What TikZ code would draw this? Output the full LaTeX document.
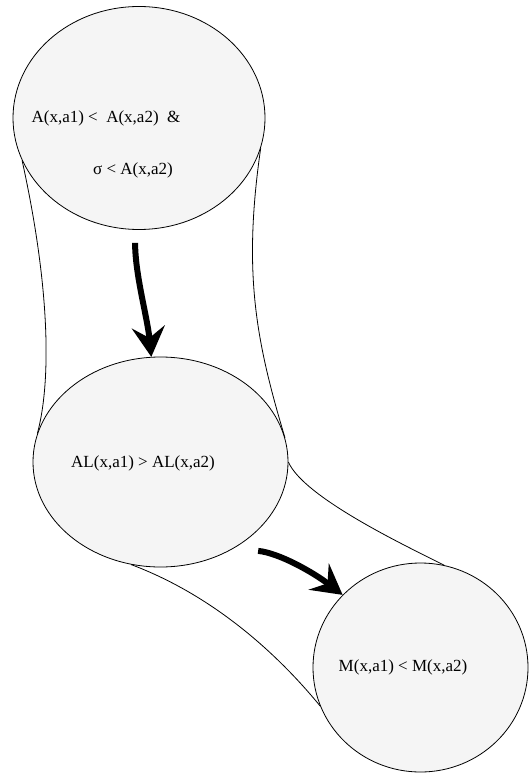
\documentclass[tikz,border=0pt]{standalone}
\usepackage{fontspec}
\setmainfont{Liberation Serif}
\usetikzlibrary{shapes.geometric, arrows.meta, positioning}
\definecolor{cfill}{gray}{0.96}

\begin{document}
\begin{tikzpicture}[
    x=1pt, y=-1pt,
    blob/.style={draw, ellipse, fill=cfill, inner sep=0pt, line width=0.8pt},
    cond/.style={font=\fontsize{17}{20}\selectfont, inner sep=0pt},
    sleeve/.style={line width=0.8pt},
    flow/.style={-{Stealth[length=30pt, width=33pt, inset=11pt]}, line width=6pt}
]
\useasboundingbox (0,0) rectangle (528,775);

\node[blob, minimum width=252pt, minimum height=223pt] (ineq) at (139,118) {};
\node[blob, minimum width=255pt, minimum height=210pt] (al) at (160.5,462) {};
\node[blob, minimum width=215pt, minimum height=209pt] (m) at (420.5,667.5) {};

\node[cond] (ineqa) at (106,118) {A(x,a1) <\ \ A(x,a2)\ \ \&};
\node[cond] (ineqb) at (133,170) {σ < A(x,a2)};
\node[cond] (allbl) at (143,463) {AL(x,a1) > AL(x,a2)};
\node[cond] (mlbl) at (403,667) {M(x,a1) < M(x,a2)};

\draw[sleeve] (ineq.200) .. controls +(28,127) and +(14,-52) .. (al.167);
\draw[sleeve] (ineq.-14) .. controls +(-18,125) and +(-29,-97) .. (al.11);
\draw[sleeve] (al.0) .. controls +(15,35) and +(-40,-20) .. (m.77);
\draw[sleeve] (al.254) .. controls +(80,30) and +(-45,-55) .. (m.201);

\draw[flow, shorten <=13pt] (ineq.-92) .. controls +(0,45) and +(-4,-40) .. (al.95);
\draw[flow, shorten <=25pt] (al.-50) .. controls +(45,4) and +(-30,-23) .. (m.137);

\end{tikzpicture}
\end{document}
